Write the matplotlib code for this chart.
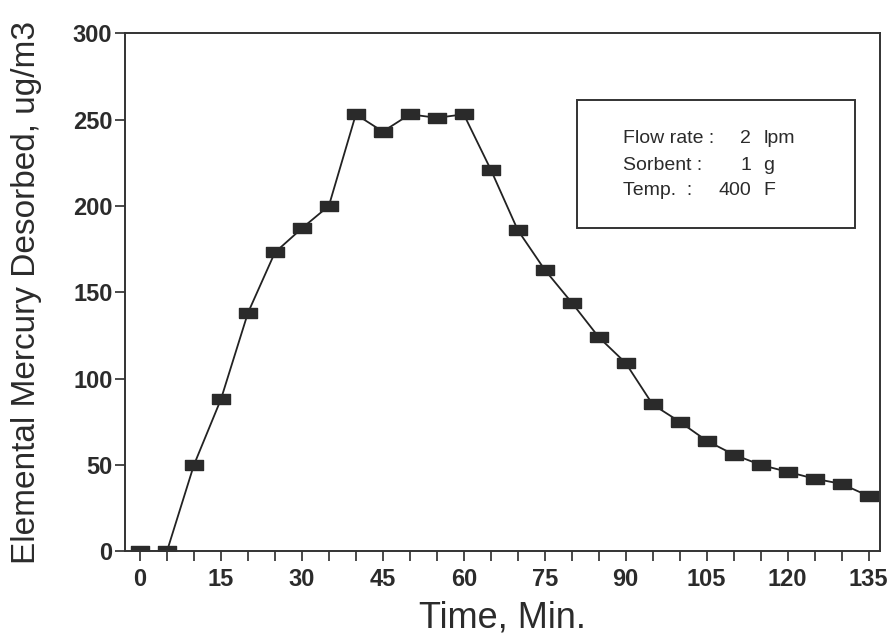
import matplotlib
matplotlib.use("Agg")
import matplotlib.pyplot as plt
from matplotlib.patches import Rectangle

plt.rcParams['font.family'] = ['Liberation Sans', 'DejaVu Sans']

time_min = [0, 5, 10, 15, 20, 25, 30, 35, 40, 45, 50, 55, 60, 65, 70,
            75, 80, 85, 90, 95, 100, 105, 110, 115, 120, 125, 130, 135]
mercury = [0, 0, 50, 88, 138, 173, 187, 200, 253, 243, 253, 251, 253, 221, 186,
           163, 144, 124, 109, 85, 75, 64, 56, 50, 46, 42, 39, 32]
x_major = [0, 15, 30, 45, 60, 75, 90, 105, 120, 135]
y_major = [0, 50, 100, 150, 200, 250, 300]
info_labels = ["Flow rate :", "Sorbent :", "Temp.  :"]
info_values = ["2", "1", "400"]
info_units = ["lpm", "g", "F"]

TXT = '#2b2b2b'
fig = plt.figure(figsize=(8.92, 6.38), dpi=100)
ax = fig.add_axes([0.140, 0.136, 0.847, 0.812])

rect_marker = [(-1, -0.58), (1, -0.58), (1, 0.58), (-1, 0.58), (-1, -0.58)]
ax.plot(time_min, mercury, color='#222222', lw=1.3, marker=rect_marker,
        markersize=12.5, markerfacecolor='#2a2a2a', markeredgecolor='#2a2a2a')

ax.set_xlim(-2.8, 137.2)
ax.set_ylim(0, 300)
ax.set_xticks(x_major)
ax.set_xticks(list(range(0, 136, 5)), minor=True)
ax.set_yticks(y_major)
ax.tick_params(axis='both', which='major', direction='out', labelsize=17,
               length=7, width=1.2, colors=TXT)
ax.tick_params(axis='x', which='minor', direction='out', length=7, width=1.2,
               color=TXT)
ax.tick_params(axis='x', pad=5)
ax.tick_params(axis='y', pad=2)
for lab in ax.get_xticklabels() + ax.get_yticklabels():
    lab.set_fontweight('bold')
for s in ax.spines.values():
    s.set_linewidth(1.4)
    s.set_color('#333333')

ax.set_xlabel("Time, Min.", fontsize=26, color=TXT, labelpad=7)
ax.set_ylabel("Elemental Mercury Desorbed, ug/m3", fontsize=24, color=TXT)
ax.yaxis.set_label_coords(-0.11, 0.5)

box = Rectangle((0.599, 0.624), 0.368, 0.247, transform=ax.transAxes,
                fill=False, edgecolor='#333333', lw=1.4)
ax.add_patch(box)
base_y = [0.788, 0.736, 0.687]
for lab, val, unit, yy in zip(info_labels, info_values, info_units, base_y):
    ax.text(0.659, yy, lab, transform=ax.transAxes, fontsize=14, color=TXT,
            va='baseline', ha='left')
    ax.text(0.829, yy, val, transform=ax.transAxes, fontsize=14, color=TXT,
            va='baseline', ha='right')
    ax.text(0.845, yy, unit, transform=ax.transAxes, fontsize=14, color=TXT,
            va='baseline', ha='left')

fig.savefig("out.png", dpi=100)
